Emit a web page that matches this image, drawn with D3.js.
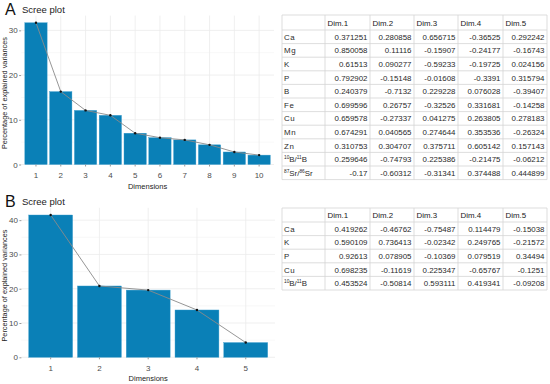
<!DOCTYPE html>
<html lang="en">
<head>
<meta charset="UTF-8">
<title>Scree plots</title>
<script src="https://d3js.org/d3.v7.min.js"></script>
<style>
  body { margin: 0; background: #fff; }
  svg { display: block; font-family: "Liberation Sans", Arial, sans-serif; }
</style>
</head>
<body>
<svg id="fig" width="550" height="384"></svg>
<script>
// Panel A: explained variance per dimension (%)
const dimsA = [1, 2, 3, 4, 5, 6, 7, 8, 9, 10];
const eigA = [31.7, 16.3, 12.1, 11.0, 7.0, 6.0, 5.5, 4.4, 2.8, 2.1];
// Panel B
const dimsB = [1, 2, 3, 4, 5];
const eigB = [41.5, 20.8, 19.6, 13.8, 4.3];

const yTicksA = [0, 10, 20, 30];
const yTicksB = [0, 10, 20, 30, 40];

const colHeads = ["Dim.1", "Dim.2", "Dim.3", "Dim.4", "Dim.5"];

// loadings tables. labels with isotopes are [sup, base, sup, base]
const labelsA = ["Ca", "Mg", "K", "P", "B", "Fe", "Cu", "Mn", "Zn", ["10", "B/", "11", "B"], ["87", "Sr/", "86", "Sr"]];
const loadingsA = [
  ["0.371251", "0.280858", "0.656715", "-0.36525", "0.292242"],
  ["0.850058", "0.11116", "-0.15907", "-0.24177", "-0.16743"],
  ["0.61513", "0.090277", "-0.59233", "-0.19725", "0.024156"],
  ["0.792902", "-0.15148", "-0.01608", "-0.3391", "0.315794"],
  ["0.240379", "-0.7132", "0.229228", "0.076028", "-0.39407"],
  ["0.699596", "0.26757", "-0.32526", "0.331681", "-0.14258"],
  ["0.659578", "-0.27337", "0.041275", "0.263805", "0.278183"],
  ["0.674291", "0.040565", "0.274644", "0.353536", "-0.26324"],
  ["0.310753", "0.304707", "0.375711", "0.605142", "0.157143"],
  ["0.259646", "-0.74793", "0.225386", "-0.21475", "-0.06212"],
  ["-0.17", "-0.60312", "-0.31341", "0.374488", "0.444899"]
];
const labelsB = ["Ca", "K", "P", "Cu", ["10", "B/", "11", "B"]];
const loadingsB = [
  ["0.419262", "-0.46762", "-0.75487", "0.114479", "-0.15038"],
  ["0.590109", "0.736413", "-0.02342", "0.249765", "-0.21572"],
  ["0.92613", "0.078905", "-0.10369", "0.079519", "0.34494"],
  ["0.698235", "-0.11619", "0.225347", "-0.65767", "-0.1251"],
  ["0.453524", "-0.50814", "0.593111", "0.419341", "-0.09208"]
];

const svg = d3.select("#fig");
const barFill = "#0a80b7";
const grid = "#ebebeb";
const axisTxt = "#4d4d4d";

function scree(opt) {
  const g = svg.append("g");
  const x = d3.scaleBand().domain(opt.dims).range([opt.left, opt.right])
    .paddingInner(0.1).paddingOuter(0.15);
  const y = d3.scaleLinear().domain([0, opt.ymax]).range([opt.bottom, opt.top]);

  // minor grid
  const minor = [];
  for (let v = 5; v < opt.ymax; v += 10) minor.push(v);
  g.selectAll(".minor").data(minor).enter().append("line")
    .attr("x1", opt.left).attr("x2", opt.right)
    .attr("y1", d => y(d)).attr("y2", d => y(d))
    .attr("stroke", "#f4f4f4").attr("stroke-width", 0.6);
  // major grid
  g.selectAll(".hmaj").data(opt.yticks).enter().append("line")
    .attr("x1", opt.left).attr("x2", opt.right)
    .attr("y1", d => y(d)).attr("y2", d => y(d))
    .attr("stroke", grid).attr("stroke-width", 0.8);
  g.selectAll(".vmaj").data(opt.dims).enter().append("line")
    .attr("x1", d => x(d) + x.bandwidth() / 2).attr("x2", d => x(d) + x.bandwidth() / 2)
    .attr("y1", opt.top).attr("y2", opt.bottom)
    .attr("stroke", grid).attr("stroke-width", 0.8);

  // bars
  g.selectAll(".bar").data(opt.vals).enter().append("rect")
    .attr("x", (d, i) => x(opt.dims[i]))
    .attr("width", x.bandwidth())
    .attr("y", d => y(d))
    .attr("height", d => y(0) - y(d))
    .attr("fill", barFill)
    .attr("stroke", "#3a9ccc").attr("stroke-width", 0.4);

  // line + points
  const line = d3.line()
    .x((d, i) => x(opt.dims[i]) + x.bandwidth() / 2)
    .y(d => y(d));
  g.append("path").datum(opt.vals).attr("d", line)
    .attr("fill", "none").attr("stroke", "#8a8a8a").attr("stroke-width", 0.9);
  g.selectAll(".pt").data(opt.vals).enter().append("circle")
    .attr("cx", (d, i) => x(opt.dims[i]) + x.bandwidth() / 2)
    .attr("cy", d => y(d)).attr("r", 1.2).attr("fill", "#111");

  // y axis
  const ya = g.append("g").attr("transform", `translate(${opt.left},0)`)
    .call(d3.axisLeft(y).tickValues(opt.yticks).tickSize(2).tickPadding(1.5));
  ya.select(".domain").remove();
  ya.selectAll("line").attr("stroke", "#999");
  ya.selectAll("text").attr("fill", axisTxt).style("font-size", "8px");

  // x axis
  const xa = g.append("g").attr("transform", `translate(0,${opt.bottom})`)
    .call(d3.axisBottom(x).tickSize(2).tickPadding(6));
  xa.select(".domain").remove();
  xa.selectAll("line").attr("stroke", "#999");
  xa.selectAll("text").attr("fill", axisTxt).style("font-size", "8px");

  // titles
  g.append("text").attr("x", (opt.left + opt.right) / 2).attr("y", opt.bottom + 24)
    .attr("text-anchor", "middle").style("font-size", "7.5px").attr("fill", "#222")
    .text("Dimensions");
  g.append("text")
    .attr("transform", `translate(7,${(opt.top + opt.bottom) / 2 + 3}) rotate(-90)`)
    .attr("text-anchor", "middle").style("font-size", "7.3px").attr("fill", "#222")
    .text("Percentage of explained variances");
  g.append("text").attr("x", 22).attr("y", opt.top - 3)
    .style("font-size", "9.5px").attr("fill", "#222").text("Scree plot");
  g.append("text").attr("x", 5).attr("y", opt.top - 0.5)
    .style("font-size", "16px").attr("fill", "#111").text(opt.letter);
}

scree({ dims: dimsA, vals: eigA, yticks: yTicksA, ymax: 33.3,
  left: 21.1, right: 274, top: 15.6, bottom: 164.5, letter: "A" });
scree({ dims: dimsB, vals: eigB, yticks: yTicksB, ymax: 43.6,
  left: 21.4, right: 275, top: 207.8, bottom: 357.3, letter: "B" });

// loadings tables
const colX = [282, 325, 370, 414, 458, 503, 547];

function table(labels, rows, top, headH, rowH) {
  const g = svg.append("g");
  const nRows = rows.length;
  const bottom = top + headH + nRows * rowH;
  const rowY = i => top + headH + i * rowH;
  const lineCol = "#d4d4d4";
  const fs = "7.9px";

  // horizontal lines
  const hs = [top, top + headH].concat(d3.range(1, nRows + 1).map(i => rowY(i)));
  g.selectAll(".h").data(hs).enter().append("line")
    .attr("x1", colX[0]).attr("x2", colX[colX.length - 1])
    .attr("y1", d => d).attr("y2", d => d)
    .attr("stroke", lineCol).attr("stroke-width", 0.8);
  g.selectAll(".v").data(colX).enter().append("line")
    .attr("x1", d => d).attr("x2", d => d)
    .attr("y1", top).attr("y2", bottom)
    .attr("stroke", lineCol).attr("stroke-width", 0.8);

  // header
  g.selectAll(".hd").data(colHeads).enter().append("text")
    .attr("x", (d, i) => colX[i + 1] + 2.5).attr("y", top + headH / 2 + 3)
    .style("font-size", fs).attr("fill", "#1a1a1a").text(d => d);

  // row labels
  labels.forEach((lab, i) => {
    const t = g.append("text").attr("x", colX[0] + 2).attr("y", rowY(i) + rowH / 2 + 2.9)
      .style("font-size", fs).attr("fill", "#2a2a2a");
    if (typeof lab === "string") {
      t.text(lab).attr("letter-spacing", "0.6px");
    } else {
      t.append("tspan").style("font-size", "4.8px").attr("dy", -2.8).text(lab[0]);
      t.append("tspan").attr("dy", 2.8).text(lab[1]);
      t.append("tspan").style("font-size", "4.8px").attr("dy", -2.8).text(lab[2]);
      t.append("tspan").attr("dy", 2.8).text(lab[3]);
    }
  });

  // values
  rows.forEach((r, i) => {
    g.selectAll(null).data(r).enter().append("text")
      .attr("x", (d, j) => colX[j + 2] - 2.5)
      .attr("y", rowY(i) + rowH / 2 + 2.9)
      .attr("text-anchor", "end")
      .style("font-size", fs).attr("fill", "#2a2a2a").text(d => d);
  });
}

table(labelsA, loadingsA, 15, 15, 13.6);
table(labelsB, loadingsB, 208, 14, 13.6);
</script>
</body>
</html>
